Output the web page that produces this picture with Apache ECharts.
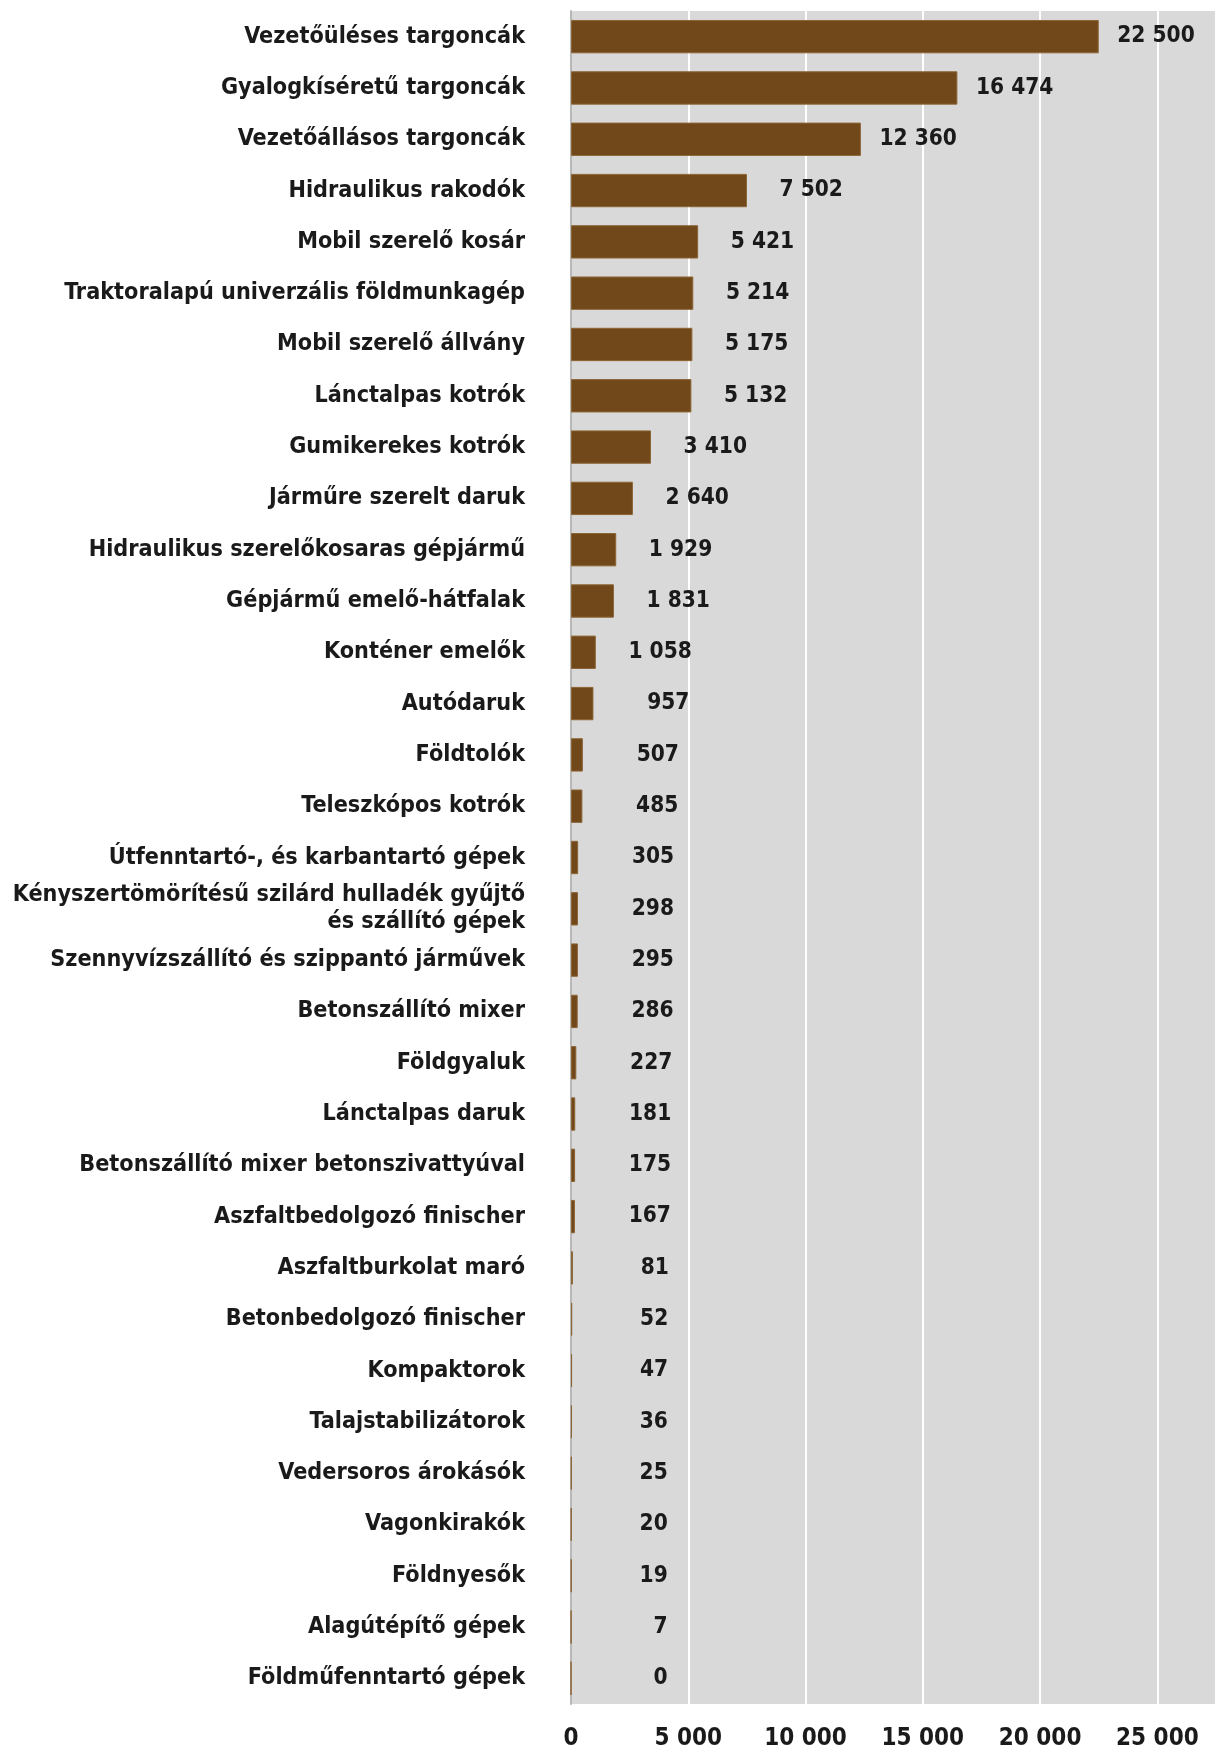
<!DOCTYPE html>
<html><head><meta charset="utf-8">
<script src="https://cdn.jsdelivr.net/npm/echarts@6/dist/echarts.min.js"></script>
<style>html,body{margin:0;padding:0;background:#fff}#c{width:1216px;height:1753px}</style>
</head><body><div id="c"></div>
<script>
const categories = [
  "Vezetőüléses targoncák","Gyalogkíséretű targoncák","Vezetőállásos targoncák","Hidraulikus rakodók",
  "Mobil szerelő kosár","Traktoralapú univerzális földmunkagép","Mobil szerelő állvány","Lánctalpas kotrók",
  "Gumikerekes kotrók","Járműre szerelt daruk","Hidraulikus szerelőkosaras gépjármű","Gépjármű emelő-hátfalak",
  "Konténer emelők","Autódaruk","Földtolók","Teleszkópos kotrók","Útfenntartó-, és karbantartó gépek",
  "Kényszertömörítésű szilárd hulladék gyűjtő\nés szállító gépek","Szennyvízszállító és szippantó járművek",
  "Betonszállító mixer","Földgyaluk","Lánctalpas daruk","Betonszállító mixer betonszivattyúval",
  "Aszfaltbedolgozó finischer","Aszfaltburkolat maró","Betonbedolgozó finischer","Kompaktorok",
  "Talajstabilizátorok","Vedersoros árokásók","Vagonkirakók","Földnyesők","Alagútépítő gépek","Földműfenntartó gépek"
];
const values = [22500,16474,12360,7502,5421,5214,5175,5132,3410,2640,1929,1831,1058,957,507,485,305,298,295,286,227,181,175,167,81,52,47,36,25,20,19,7,0];
const xTicks = [0,5000,10000,15000,20000,25000];

const FONT = '"Liberation Sans Narrow","DejaVu Sans Condensed","Roboto",sans-serif';
const fmt = v => String(v).replace(/\B(?=(\d{3})+(?!\d))/g, ' ');

const chart = echarts.init(document.getElementById('c'), null, {renderer:'canvas'});
chart.setOption({
  animation:false,
  backgroundColor:'#fff',
  grid:{left:571, right:0, top:11, bottom:49, containLabel:false, outerBoundsMode:'none',
    show:true, backgroundColor:'#d9d9d9', borderWidth:0},
  xAxis:{
    type:'value', min:0, max:27500, interval:5000,
    axisLine:{show:false}, axisTick:{show:false},
    splitLine:{show:true, lineStyle:{color:'#ffffff', width:2}},
    axisLabel:{show:true, showMaxLabel:false, margin:23, color:'#1a1a1a', fontFamily:FONT, fontWeight:'bold', fontSize:24,
      formatter: v => xTicks.indexOf(v) >= 0 ? fmt(v) : ''}
  },
  yAxis:{
    type:'category', data:categories, inverse:true,
    axisLine:{show:true, lineStyle:{color:'#b8b8b8', width:2}},
    axisTick:{show:false},
    axisLabel:{margin:46, color:'#1a1a1a', fontFamily:FONT, fontWeight:'bold', fontSize:23.2, lineHeight:27,
      align:'right', padding:[4,0,0,0]}
  },
  series:[{
    type:'bar', data:values, barCategoryGap:'35%',
    itemStyle:{color:'#71481a', borderColor:'#8c6536', borderWidth:1},
    label:{show:true, position:'right', distance:96, align:'right', color:'#1a1a1a', padding:[4,0,0,0],
      fontFamily:FONT, fontWeight:'bold', fontSize:22.5, formatter: p => fmt(p.value)}
  }]
});
</script></body></html>
